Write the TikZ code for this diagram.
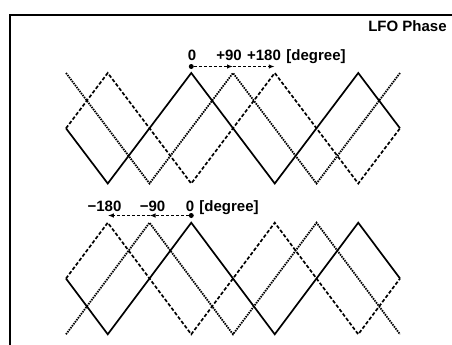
\documentclass[tikz,border=0pt]{standalone}
\usepackage{fontspec}
\setmainfont{Liberation Sans}
\usetikzlibrary{arrows.meta}
\tikzset{tag/.style={font=\bfseries\fontsize{15}{18}\selectfont,inner sep=0pt,anchor=base},wave/.style={line width=1.7pt,line join=miter},solidwave/.style={wave},dashwave/.style={wave,dash pattern=on 3.5pt off 2pt},dotwave/.style={wave,line width=1.8pt,dash pattern=on 1.5pt off 1pt},phasearrow/.style={-{Latex[length=6pt,width=4.5pt]},line width=1.2pt,dash pattern=on 3pt off 2pt},zerodot/.style={circle,fill,inner sep=0pt,minimum size=5pt},border/.style={line width=2pt}}

\begin{document}
\begin{tikzpicture}[x=1pt,y=-1pt]
\useasboundingbox (0,0) rectangle (452,345);
\draw[border] (10,345)--(10,15.5)--(452,15.5);
\node[tag] (title) at (407.5,31.5) {LFO Phase};
% waveforms, upper and lower plot
\foreach \P/\M/\T in {73/128.3/183.5,222.7/278.5/334.3}{
\draw[dashwave] (66,\M)--(107.75,\P)--(191.25,\T)--(274.75,\P)--(358.25,\T)--(400,\M);
\draw[solidwave] (66,\M)--(107.75,\T)--(191.25,\P)--(274.75,\T)--(358.25,\P)--(400,\M);}
\draw[dotwave] (66,73)--(149.5,183.5)--(233,73)--(316.5,183.5)--(400,73);
\draw[dotwave] (66,334.3)--(149.5,222.7)--(233,334.3)--(316.5,222.7)--(400,334.3);
% upper phase labels
\foreach \n/\x/\t in {u0/192/0,u90/229/+90,u180/264/+180,udeg/316/[degree]}{\node[tag] (\n) at (\x,60.5) {\t};}
\node[zerodot] (upzero) at (191.25,66.5) {};
\coordinate (upq) at (233,66.5); \coordinate (uph) at (274.75,66.5);
\draw[phasearrow] (upzero)--(upq); \draw[phasearrow] (upq)--(uph);
% lower phase labels
\foreach \n/\x/\t in {l180/104.5/−180,l90/152.5/−90,l0/190/0,ldeg/229/[degree]}{\node[tag] (\n) at (\x,211) {\t};}
\node[zerodot] (lowzero) at (191.25,215.5) {};
\coordinate (lowq) at (149.5,215.5); \coordinate (lowh) at (107.75,215.5);
\draw[phasearrow] (lowzero)--(lowq); \draw[phasearrow] (lowq)--(lowh);
\end{tikzpicture}
\end{document}
